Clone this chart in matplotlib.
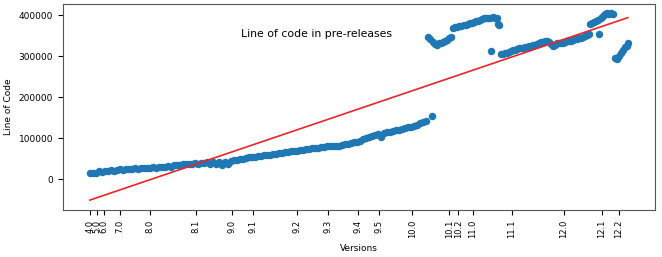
import numpy as np
import matplotlib
matplotlib.use("Agg")
import matplotlib.pyplot as plt

# release tick positions (pre-release index) and labels
versions = ["4.0", "5.0", "6.0", "7.0", "8.0", "8.1", "9.0", "9.1", "9.2", "9.3",
            "9.4", "9.5", "10.0", "10.1", "10.2", "11.0", "11.1", "12.0", "12.1", "12.2"]
version_idx = [0, 7, 14, 30, 60, 106, 142, 163, 207, 238,
               268, 289, 322, 359, 368, 382, 421, 473, 511, 528]

# lines of code (thousands)
seg_a_idx = list(range(0, 337, 3))
seg_a_loc = [14, 16, 15, 19, 18, 21, 20, 22, 21, 23, 24, 23, 25, 26, 25, 27, 26, 28, 27, 28,
             27, 29, 28, 30, 29, 31, 32, 31, 34, 35, 34, 37, 36, 38, 37, 39, 38, 40, 39, 41,
             38, 42, 37, 41, 35, 42, 36, 44, 46, 47, 49, 50, 51, 53, 54, 55, 56, 57, 58, 59,
             60, 62, 62, 64, 65, 66, 67, 68, 69, 70, 71, 72, 73, 74, 76, 76, 77, 78, 79, 80,
             80, 81, 82, 82, 84, 85, 86, 88, 90, 91, 94, 97, 100, 103, 106, 108, 110, 104, 113, 115,
             116, 118, 120, 121, 123, 125, 127, 128, 130, 133, 136, 139, 143]

seg_b_idx = [338, 340, 342, 343, 345, 347, 349, 351, 353, 355, 357, 359, 361,
             363, 365, 367, 369, 371, 373, 375, 377, 379, 381, 383, 385, 387, 389,
             391, 393, 395, 397, 399, 400, 402, 404, 406, 407, 408]
seg_b_loc = [346, 342, 155, 334, 330, 328, 331, 333, 335, 337, 340, 344, 346,
             368, 372, 370, 374, 373, 376, 377, 378, 380, 381, 383, 385, 386, 389,
             390, 392, 393, 394, 393, 313, 395, 394, 392, 378, 375]

seg_c_idx = list(range(410, 499, 2))
seg_c_loc = [305, 306, 308, 307, 310, 312, 314, 316, 317, 319, 320, 321, 322, 323, 324,
             326, 327, 328, 330, 332, 334, 335, 337, 336, 334, 330, 326, 328, 331, 331,
             332, 333, 335, 336, 337, 338, 340, 341, 342, 344, 345, 347, 349, 351, 353]

seg_d_idx = [499, 501, 503, 505, 507, 508, 510, 512, 514, 516, 518, 520, 522,
             524, 526, 528, 530, 532, 534, 536, 537]
seg_d_loc = [378, 381, 383, 386, 388, 353, 392, 398, 403, 405, 404, 405, 404,
             296, 294, 300, 308, 316, 322, 326, 331]

# linear trend end points
trend_idx = [0, 537]
trend_loc = [-51000, 394000]

idx = np.array(seg_a_idx + seg_b_idx + seg_c_idx + seg_d_idx)
loc = np.array(seg_a_loc + seg_b_loc + seg_c_loc + seg_d_loc) * 1000

fig = plt.figure(figsize=(6.62, 2.57), dpi=100)
ax = fig.add_axes([0.095, 0.183, 0.894, 0.801])

ax.scatter(idx, loc, s=19, color="#1f77b4", zorder=2)
ax.plot(trend_idx, trend_loc, color="#e8262a", linewidth=1.2, zorder=3)

ax.set_xticks(version_idx)
ax.set_xticklabels(versions, rotation=90, fontsize=6)
ax.set_yticks([0, 100000, 200000, 300000, 400000])
ax.tick_params(axis="y", labelsize=6.5)
ax.set_ylim(-75000, 427000)

ax.set_xlabel("Versions", fontsize=6.5)
ax.set_ylabel("Line of Code", fontsize=6.5)
ax.text(0.429, 0.855, "Line of code in pre-releases", transform=ax.transAxes,
        ha="center", va="center", fontsize=7.8)

for sp in ax.spines.values():
    sp.set_color("#555555")

fig.savefig("out.png", dpi=100)
